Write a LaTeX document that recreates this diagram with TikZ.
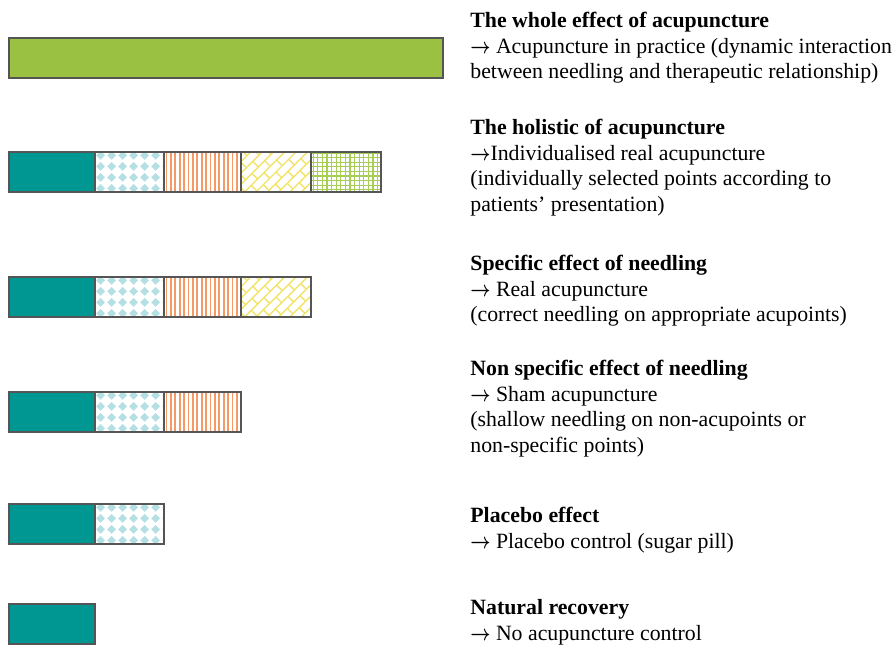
\documentclass[tikz,border=0pt]{standalone}
\usepackage{fontspec}
\setmainfont{Liberation Serif}
\usetikzlibrary{positioning}
\definecolor{AcuTeal}{HTML}{009792}
\definecolor{AcuGreen}{HTML}{9AC142}
\definecolor{AcuBlue}{HTML}{B4DFE3}
\definecolor{AcuOrange}{HTML}{F39A66}
\definecolor{AcuYellow}{HTML}{F2E46A}
\definecolor{AcuGrid}{HTML}{A6CD55}
\definecolor{AcuEdge}{HTML}{555555}
\newcommand{\effarrow}{\scalebox{0.8}[1]{\boldmath$\rightarrow$}}
\tikzset{
  seg/.style={draw=AcuEdge,line width=0.75pt,inner sep=0pt,outer sep=0pt,minimum height=20pt,anchor=west},
  wholebar/.style={seg,fill=AcuGreen,minimum width=217pt,anchor=north west},
  naturalseg/.style={seg,fill=AcuTeal,minimum width=43pt,anchor=north west},
  placeboseg/.style={seg,fill=white,minimum width=34.5pt,path picture={
    \foreach \i in {0,...,6} \foreach \j in {0,...,3}
      \fill[AcuBlue] ([xshift=\i*5.5pt+2.8pt,yshift=\j*5.5pt+1.8pt]path picture bounding box.south west)
        +(-2.2pt,0pt) -- +(0pt,2.2pt) -- +(2.2pt,0pt) -- +(0pt,-2.2pt) -- cycle;}},
  nonspecseg/.style={seg,fill=white,minimum width=38.5pt,path picture={
    \foreach \i in {0,...,17}
      \draw[AcuOrange,line width=0.9pt] ([xshift=\i*2.2pt+1.2pt]path picture bounding box.south west)
        -- ([xshift=\i*2.2pt+1.2pt]path picture bounding box.north west);}},
  specificseg/.style={seg,fill=white,minimum width=35pt,path picture={
    \foreach \k in {-7,...,7}{
      \draw[AcuYellow,line width=0.7pt]
        ([shift={({0.7071*(-40-\k*4)*1pt},{0.7071*(-40+\k*4)*1pt})}]path picture bounding box.center)
        -- ([shift={({0.7071*(40-\k*4)*1pt},{0.7071*(40+\k*4)*1pt})}]path picture bounding box.center);
      \foreach \m in {-5,...,5}
        \draw[AcuYellow,line width=0.7pt]
          ([shift={({0.7071*(\m*9+mod(\k+7,2)*4.5-\k*4)*1pt},{0.7071*(\m*9+mod(\k+7,2)*4.5+\k*4)*1pt})}]path picture bounding box.center)
          -- ++(-2.83pt,2.83pt);
    }}},
  holisticseg/.style={seg,fill=white,minimum width=35pt,path picture={
    \foreach \i in {0,...,15}
      \draw[AcuGrid,line width=0.65pt] ([xshift=\i*2.3pt+1.1pt]path picture bounding box.south west)
        -- ([xshift=\i*2.3pt+1.1pt]path picture bounding box.north west);
    \foreach \j in {0,...,8}
      \draw[AcuGrid,line width=0.65pt] ([yshift=\j*2.3pt+1.1pt]path picture bounding box.south west)
        -- ([yshift=\j*2.3pt+1.1pt]path picture bounding box.south east);}},
  effecttext/.style={anchor=north west,align=left,inner sep=0pt,font=\fontsize{10.9}{12.8}\selectfont}
}

\begin{document}
\begin{tikzpicture}[x=0.5pt,y=-0.5pt]
\useasboundingbox (0,0) rectangle (895,644);
\clip (0,0) rectangle (895,644);
\node[wholebar] (w1) at (9,38) {};
\node[naturalseg] (n2) at (9,152) {};
\node[placeboseg,right=0pt of n2] (p2) {};
\node[nonspecseg,right=0pt of p2] (s2) {};
\node[specificseg,right=0pt of s2] (r2) {};
\node[holisticseg,right=0pt of r2] (h2) {};
\node[naturalseg] (n3) at (9,277) {};
\node[placeboseg,right=0pt of n3] (p3) {};
\node[nonspecseg,right=0pt of p3] (s3) {};
\node[specificseg,right=0pt of s3] (r3) {};
\node[naturalseg] (n4) at (9,392) {};
\node[placeboseg,right=0pt of n4] (p4) {};
\node[nonspecseg,right=0pt of p4] (s4) {};
\node[naturalseg] (n5) at (9,504) {};
\node[placeboseg,right=0pt of n5] (p5) {};
\node[naturalseg] (n6) at (9,604) {};
\node[effecttext] (t1) at (470,12) {\textbf{The whole effect of acupuncture}\\\effarrow{} Acupuncture in practice (dynamic interaction\\between needling and therapeutic relationship)};
\node[effecttext] (t2) at (470,119) {\textbf{The holistic of acupuncture}\\\effarrow{}Individualised real acupuncture\\(individually selected points according to\\patients’ presentation)};
\node[effecttext] (t3) at (470,255) {\textbf{Specific effect of needling}\\\effarrow{} Real acupuncture\\(correct needling on appropriate acupoints)};
\node[effecttext] (t4) at (470,360) {\textbf{Non specific effect of needling}\\\effarrow{} Sham acupuncture\\(shallow needling on non-acupoints or\\non-specific points)};
\node[effecttext] (t5) at (470,507) {\textbf{Placebo effect}\\\effarrow{} Placebo control (sugar pill)};
\node[effecttext] (t6) at (470,599) {\textbf{Natural recovery}\\\effarrow{} No acupuncture control};
\end{tikzpicture}
\end{document}
